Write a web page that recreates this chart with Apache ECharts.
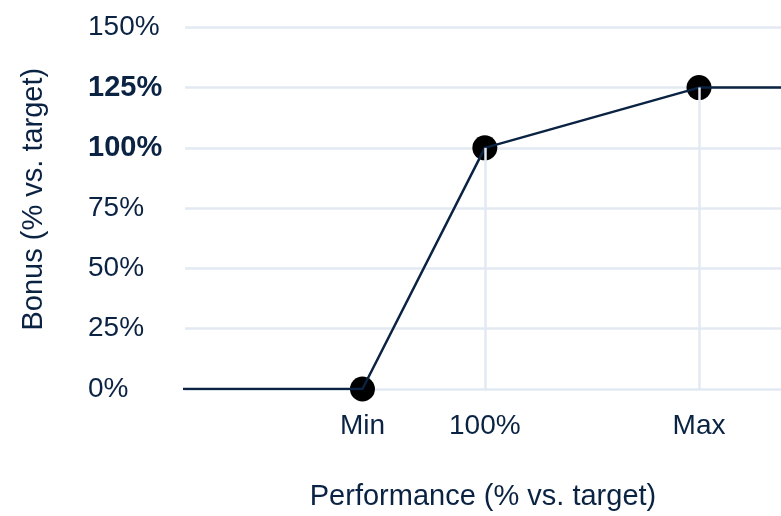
<!DOCTYPE html>
<html>
<head>
<meta charset="utf-8">
<script src="https://cdn.jsdelivr.net/npm/echarts@6/dist/echarts.min.js"></script>
<style>
  html, body { margin: 0; padding: 0; background: #ffffff; }
  #chart { width: 781px; height: 516px; }
</style>
</head>
<body>
<div id="chart"></div>
<script>
// Bonus payout curve: bonus (% of target) against performance (% of target)
const performance = [50, 80, 100, 135, 150];
const bonus = [0, 0, 100, 125, 125];

// Highlighted thresholds on the curve (Min, target, Max)
const keyPerformance = [80, 100, 135];
const keyBonus = [0, 100, 125];

// Axis ticks
const xTickValues = [80, 100, 135];
const xTickLabels = ['Min', '100%', 'Max'];
const yTickValues = [0, 25, 50, 75, 100, 125, 150];
const yBoldTicks = [100, 125];

const ink = '#0b2343';
const gridColor = '#e3e9f2';
const font = '"Liberation Sans Narrow", "Arial Narrow", "Liberation Sans", sans-serif';

const curve = performance.map((p, i) => [p, bonus[i]]);
const keyPoints = keyPerformance.map((p, i) => [p, keyBonus[i]]);
const dropLines = keyPoints
  .filter(pt => pt[1] > 0)
  .map(pt => [{ coord: [pt[0], pt[1]] }, { coord: [pt[0], 0] }]);

const chart = echarts.init(document.getElementById('chart'), null, { renderer: 'canvas' });

chart.setOption({
  backgroundColor: '#ffffff',
  animation: false,
  grid: { left: 185, right: 0, top: 27.3, bottom: 126.3 },
  xAxis: {
    type: 'value',
    min: 51,
    max: 148.4,
    name: 'Performance (% vs. target)',
    nameLocation: 'middle',
    nameGap: 93,
    nameTextStyle: { fontFamily: font, fontSize: 29, color: ink },
    axisLine: { show: false },
    axisTick: { show: false },
    splitLine: { show: false },
    axisLabel: {
      customValues: xTickValues,
      formatter: v => xTickLabels[xTickValues.indexOf(v)],
      fontFamily: font,
      fontSize: 28,
      color: ink,
      margin: 23
    }
  },
  yAxis: {
    type: 'value',
    min: yTickValues[0],
    max: yTickValues[yTickValues.length - 1],
    interval: 25,
    name: 'Bonus (% vs. target)',
    nameLocation: 'middle',
    nameGap: 137,
    nameTextStyle: { fontFamily: font, fontSize: 29, color: ink, padding: [0, 0, 0, 18] },
    axisLine: { show: false },
    axisTick: { show: false },
    splitLine: { show: true, lineStyle: { color: gridColor, width: 2.5 } },
    axisLabel: {
      align: 'left',
      margin: 97,
      fontFamily: font,
      fontSize: 28,
      color: ink,
      formatter: v => yBoldTicks.indexOf(v) >= 0 ? '{b|' + v + '%}' : v + '%',
      rich: {
        b: { fontFamily: font, fontSize: 29, fontWeight: 'bold', color: ink }
      }
    }
  },
  series: [
    {
      name: 'drop',
      type: 'line',
      data: [],
      z: 1,
      markLine: {
        silent: true,
        symbol: ['none', 'none'],
        label: { show: false },
        lineStyle: { color: gridColor, width: 2.5, type: 'solid' },
        data: dropLines
      }
    },
    {
      name: 'Thresholds',
      type: 'scatter',
      data: keyPoints,
      symbol: 'circle',
      symbolSize: 25,
      itemStyle: { color: '#000000', opacity: 1 },
      z: 2
    },
    {
      name: 'Bonus',
      type: 'line',
      data: curve,
      showSymbol: false,
      symbol: 'none',
      lineStyle: { color: ink, width: 2.5 },
      z: 3
    }
  ]
});
</script>
</body>
</html>
